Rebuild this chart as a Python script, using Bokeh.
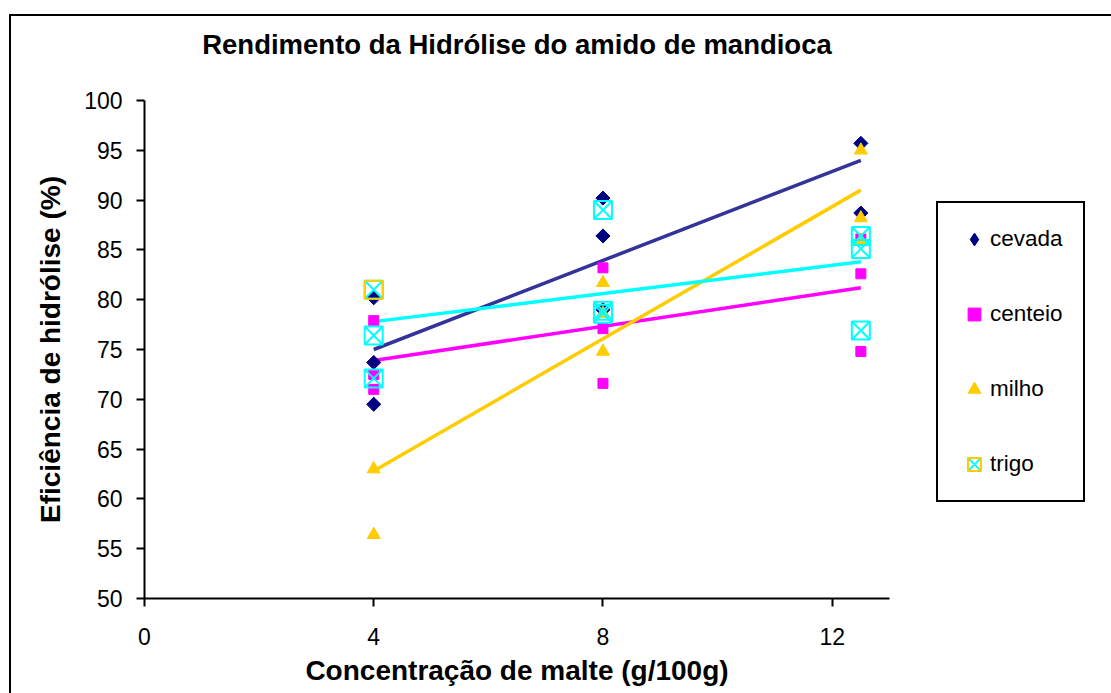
import math
from bokeh.plotting import figure
from bokeh.layouts import row
from bokeh.models import FixedTicker, Legend, LegendItem, Range1d, LinearAxis
from bokeh.embed import file_html
from bokeh.resources import INLINE

# ---- data ----
cevada_x = [4, 4, 4, 8, 8, 8, 12.5, 12.5]
cevada_y = [80.2, 73.7, 69.5, 90.2, 86.4, 79.0, 95.7, 88.7]

centeio_x = [4, 4, 4, 8, 8, 8, 12.5, 12.5, 12.5]
centeio_y = [77.9, 72.5, 71.0, 83.2, 77.1, 71.6, 86.1, 82.6, 74.8]

milho_x = [4, 4, 8, 8, 8, 12.5, 12.5, 12.5]
milho_y = [63.0, 56.4, 81.7, 78.6, 74.8, 95.0, 88.2, 85.9]

trigo_x = [4, 4, 4, 8, 8, 8, 12.5, 12.5, 12.5]
trigo_y = [81.0, 76.4, 72.1, 89.0, 78.9, 78.6, 86.4, 85.1, 76.9]

trend_x = [4, 12.5]
trend_cevada = [75.0, 94.0]
trend_centeio = [73.9, 81.2]
trend_milho = [62.8, 91.0]
trend_trigo = [77.8, 83.8]

x_ticks = [0, 4, 8, 12]
y_ticks = [50, 55, 60, 65, 70, 75, 80, 85, 90, 95, 100]

series_names = ["cevada", "centeio", "milho", "trigo"]
title_text = "Rendimento da Hidrólise do amido de mandioca"
x_label = "Concentração de malte (g/100g)"
y_label = "Eficiência de hidrólise (%)"

FONT = "Liberation Sans"
C_CEV, C_CEN, C_MIL, C_TRI = "#000080", "#FF00FF", "#FFCC00", "#00FFFF"

p = figure(width=888, height=677, output_backend="svg", toolbar_location=None,
           title=None, x_range=Range1d(0, 13), y_range=Range1d(50, 100),
           min_border_left=133, min_border_right=10, min_border_top=84, min_border_bottom=95)

p.grid.visible = False
p.outline_line_color = None
p.background_fill_color = "white"
p.border_fill_color = "white"

for ax in (p.xaxis[0], p.yaxis[0]):
    ax.axis_line_width = 2
    ax.axis_line_color = "black"
    ax.major_tick_line_width = 2
    ax.major_tick_line_color = "black"
    ax.major_tick_out = 8
    ax.major_tick_in = 0
    ax.minor_tick_line_color = None
    ax.major_label_text_font = FONT
    ax.major_label_text_font_size = "23px"
    ax.major_label_text_color = "black"
    ax.axis_label_text_font = FONT
    ax.axis_label_text_font_size = "28px"
    ax.axis_label_text_font_style = "bold"
    ax.axis_label_text_color = "black"

p.xaxis.ticker = FixedTicker(ticks=x_ticks)
p.yaxis.ticker = FixedTicker(ticks=y_ticks)
p.xaxis.axis_label = x_label
p.yaxis.axis_label = y_label
p.xaxis.major_label_standoff = 21
p.yaxis.major_label_standoff = 14
p.xaxis.axis_label_standoff = 7
p.yaxis.axis_label_standoff = 15

# title drawn as the label of an empty axis above the plot
top_axis = LinearAxis(ticker=FixedTicker(ticks=[]), axis_line_color=None,
                      major_tick_line_color=None, minor_tick_line_color=None,
                      major_tick_out=0, major_tick_in=0,
                      axis_label=title_text, axis_label_text_font=FONT,
                      axis_label_text_font_size="27.5px", axis_label_text_font_style="bold",
                      axis_label_text_color="black", axis_label_standoff=41)
p.add_layout(top_axis, "above")

# trend lines
p.line(trend_x, trend_cevada, line_color="#333399", line_width=3.5)
p.line(trend_x, trend_centeio, line_color=C_CEN, line_width=3.5)
p.line(trend_x, trend_milho, line_color=C_MIL, line_width=3.5)
p.line(trend_x, trend_trigo, line_color=C_TRI, line_width=3.5)

p.scatter(cevada_x, cevada_y, marker="square", angle=math.pi / 4, size=10,
          fill_color=C_CEV, line_color=C_CEV)
p.scatter(centeio_x, centeio_y, marker="square", size=10, fill_color=C_CEN, line_color=C_CEN)
p.scatter(milho_x, milho_y, marker="triangle", size=13, fill_color=C_MIL, line_color=C_MIL)
p.scatter(trigo_x, trigo_y, marker="square_x", size=18, fill_color=None,
          line_color=C_TRI, line_width=2)
p.scatter(trigo_x[:1], trigo_y[:1], marker="square", size=18, fill_color=None,
          line_color=C_MIL, line_width=2)

# ---- legend panel (a second figure; its glyphs use the same data, outside its view) ----
q = figure(width=212, height=677, output_backend="svg", toolbar_location=None,
           title=None, x_range=Range1d(0, 1), y_range=Range1d(0, 1),
           min_border=0, x_axis_location=None, y_axis_location=None)
q.grid.visible = False
q.outline_line_color = None
q.background_fill_color = "white"
q.border_fill_color = "white"

l_cev = q.scatter(cevada_x, cevada_y, marker="diamond", fill_color=C_CEV, line_color=C_CEV)
l_cen = q.scatter(centeio_x, centeio_y, marker="square", fill_color=C_CEN, line_color=C_CEN)
l_mil = q.scatter(milho_x, milho_y, marker="triangle", fill_color=C_MIL, line_color=C_MIL)
l_tri = q.scatter(trigo_x, trigo_y, marker="square_x", fill_color=None,
                  line_color=C_TRI, line_width=2)
l_tri2 = q.scatter(trigo_x, trigo_y, marker="square", fill_color=None,
                   line_color=C_MIL, line_width=2)

legend = Legend(items=[
    LegendItem(label=series_names[0], renderers=[l_cev]),
    LegendItem(label=series_names[1], renderers=[l_cen]),
    LegendItem(label=series_names[2], renderers=[l_mil]),
    LegendItem(label=series_names[3], renderers=[l_tri, l_tri2]),
], location=(37, 96))
legend.label_text_font = FONT
legend.label_text_font_size = "22.5px"
legend.label_text_color = "black"
legend.border_line_color = "black"
legend.border_line_width = 2
legend.border_line_alpha = 1
legend.background_fill_color = "white"
legend.background_fill_alpha = 1
legend.padding = 20
legend.spacing = 43
legend.label_height = 32
legend.glyph_height = 32
legend.glyph_width = 32
legend.label_standoff = 0
legend.margin = 0
q.add_layout(legend, "center")

layout = row(p, q)
layout.styles = {"margin-left": "9px", "margin-top": "14px",
                 "border-left": "2px solid black", "border-top": "2px solid black"}

open("out.html", "w").write(file_html(layout, INLINE))
